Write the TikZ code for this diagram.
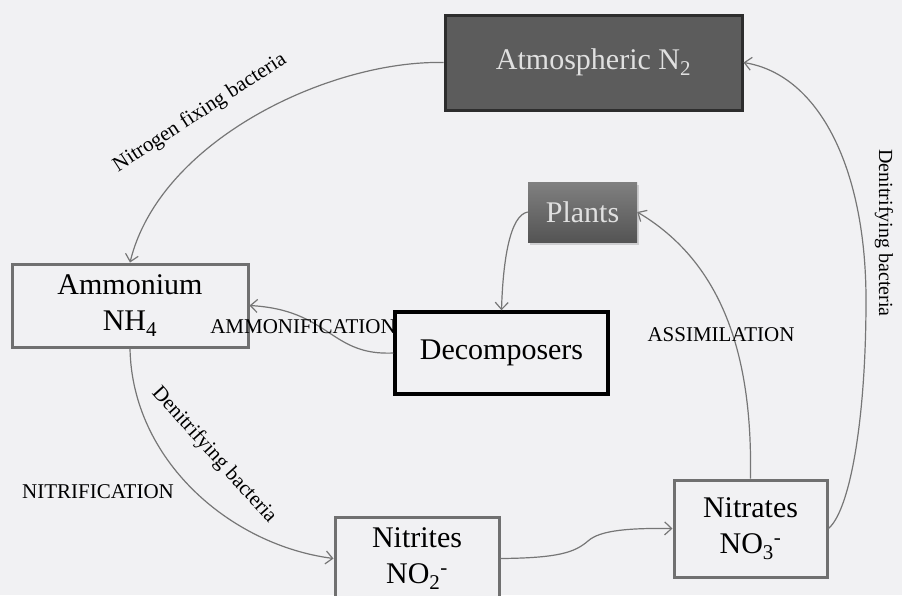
\documentclass[tikz,border=0pt]{standalone}
\usepackage{fontspec}
\setmainfont{Liberation Serif}
\usetikzlibrary{arrows.meta,shadows}
\definecolor{bgc}{RGB}{241,241,243}
\definecolor{linec}{RGB}{118,118,118}
\definecolor{boxc}{RGB}{112,112,112}
\definecolor{atmfill}{RGB}{92,92,92}
\definecolor{atmedge}{RGB}{45,45,45}
\definecolor{planttop}{RGB}{128,128,128}
\definecolor{plantbot}{RGB}{84,84,84}
\definecolor{lighttext}{RGB}{224,224,224}
\begin{document}
\begin{tikzpicture}[x=1pt,y=-1pt,
  bigtext/.style={font=\fontsize{30}{36}\selectfont},
  lbl/.style={font=\fontsize{21}{23}\selectfont, inner sep=0pt},
  rlbl/.style={font=\fontsize{21}{23}\selectfont, inner sep=0pt},
  plainbox/.style={draw=boxc, line width=3pt, fill=bgc, inner sep=0pt, align=center, bigtext},
  flow/.style={draw=linec, line width=1.2pt, -{Straight Barb[length=7pt,width=13pt]}},
]
\useasboundingbox (0,0) rectangle (902,595);
\fill[bgc] (0,0) rectangle (902,595);
\clip (0,0) rectangle (902,595);

% nodes
\node[draw=atmedge, line width=3pt, fill=atmfill, text=lighttext, inner sep=0pt,
      minimum width=297pt, minimum height=95pt, bigtext] (atm) at (593.5,62.5)
      {Atmospheric N\textsubscript{2}};
\node[top color=planttop, bottom color=plantbot, text=lighttext, inner sep=0pt,
      minimum width=109pt, minimum height=60pt, bigtext,
      drop shadow={opacity=0.3, shadow xshift=2pt, shadow yshift=-3pt}] (plants) at (582.5,212)
      {Plants};
\node[plainbox, minimum width=236pt, minimum height=83pt] (amm) at (130,305.5)
      {Ammonium\\NH\textsubscript{4}};
\node[plainbox, draw=black, line width=3.5pt, minimum width=213pt, minimum height=82pt] (dec) at (501.5,353)
      {Decomposers};
\node[plainbox, minimum width=164pt, minimum height=83pt] (nitri) at (417,558.5)
      {Nitrites\\NO\textsubscript{2}\textsuperscript{-}};
\node[plainbox, minimum width=153pt, minimum height=97pt] (nitra) at (750.5,528.5)
      {Nitrates\\NO\textsubscript{3}\textsuperscript{-}};

% connectors
\draw[flow] (atm.west) .. controls (330,60) and (160,140) .. (amm.north);
\draw[flow] (dec.west) .. controls (330,356) and (330,310) .. (amm.east);
\draw[flow] (plants.west) .. controls (510,215) and (503,260) .. (dec.north);
\draw[flow] (nitra.north) .. controls (752,380) and (735,270) .. (plants.east);
\draw[flow] (nitra.east) .. controls (850,510) and (866,420) .. (866,300)
            .. controls (866,170) and (820,75) .. (atm.east);
\draw[flow] (amm.south) .. controls (132,460) and (230,545) .. (nitri.west);
\draw[flow] (nitri.east) .. controls (560,558) and (575,552) .. (588,541)
            .. controls (600,530) and (630,528) .. (nitra.west);

% labels
\node[rlbl, rotate=33] (lfix) at (200,113) {Nitrogen fixing bacteria};
\node[lbl] (lammo) at (303,327) {AMMONIFICATION};
\node[lbl] (lassi) at (721,335) {ASSIMILATION};
\node[lbl] (lnitr) at (98,492) {NITRIFICATION};
\node[rlbl, rotate=-48] (ldenl) at (214,455) {Denitrifying bacteria};
\node[rlbl, font=\fontsize{20}{22}\selectfont, rotate=-90] (ldenr) at (884,233) {Denitrifying bacteria};
\end{tikzpicture}
\end{document}
